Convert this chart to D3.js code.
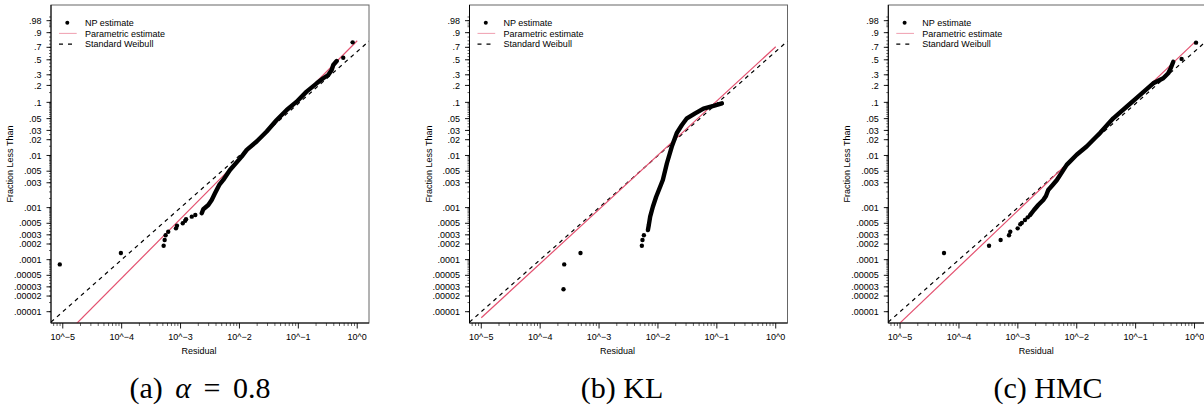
<!DOCTYPE html>
<html>
<head>
<meta charset="utf-8">
<script src="https://cdn.jsdelivr.net/npm/d3@7"></script>
<style>
body { margin: 0; background: #fff; }
svg { display: block; }
</style>
</head>
<body>
<svg id="chart"></svg>
<script>
// ---- data ----
const yTicks = [.98, .9, .7, .5, .3, .2, .1, .05, .03, .02, .01, .005, .003, .001, .0005, .0003, .0002, .0001, .00005, .00003, .00002, .00001];
const yTickLabels = ['.98', '.9', '.7', '.5', '.3', '.2', '.1', '.05', '.03', '.02', '.01', '.005', '.003', '.001', '.0005', '.0003', '.0002', '.0001', '.00005', '.00003', '.00002', '.00001'];
const xTicks = [1e-5, 1e-4, 1e-3, 1e-2, 1e-1, 1];
const xTickLabels = ['10^\u22125', '10^\u22124', '10^\u22123', '10^\u22122', '10^\u22121', '10^0'];
const legendLabels = ['NP estimate', 'Parametric estimate', 'Standard Weibull'];

// isolated NP points [residual, fraction]
const alphaDots = [[8.9e-6, 8.1e-5], [9.7e-5, 1.34e-4], [5.16e-4, 1.85e-4], [5.37e-4, 2.38e-4], [5.58e-4, 2.94e-4],
  [6.18e-4, 3.44e-4], [8.36e-4, 4.0e-4], [8.69e-4, 4.49e-4], [1.09e-3, 5.0e-4], [1.20e-3, 5.6e-4], [1.24e-3, 6.0e-4],
  [1.55e-3, 6.7e-4], [1.78e-3, 7.2e-4], [0.579, 0.532], [0.836, 0.777]];
// dense run of NP points
const alphaCurve = [[2.29e-3, 7.8e-4], [2.43e-3, 9.3e-4], [2.96e-3, 1.12e-3], [3.38e-3, 1.40e-3], [3.84e-3, 1.88e-3],
  [4.54e-3, 2.72e-3], [5.31e-3, 3.39e-3], [6.90e-3, 5.28e-3], [1.09e-2, 9.5e-3], [1.33e-2, 1.28e-2], [1.96e-2, 1.85e-2],
  [2.90e-2, 2.87e-2], [4.29e-2, 4.71e-2], [6.34e-2, 7.24e-2], [9.36e-2, 0.1029], [0.138, 0.156], [0.205, 0.217],
  [0.265, 0.264], [0.322, 0.298], [0.368, 0.357], [0.392, 0.423], [0.448, 0.481]];
const alphaParam = [[1e-5, 3.2e-6], [1, 0.80]];

const klDots = [[2.56e-4, 8.1e-5], [2.49e-4, 2.7e-5], [4.84e-4, 1.34e-4], [5.33e-3, 1.85e-4], [5.46e-3, 2.38e-4], [5.77e-3, 2.94e-4]];
const klCurve = [[6.75e-3, 3.71e-4], [7.0e-3, 4.63e-4], [7.38e-3, 6.7e-4], [8.2e-3, 1.04e-3], [9.33e-3, 1.62e-3],
  [1.09e-2, 2.52e-3], [1.21e-2, 3.39e-3], [1.42e-2, 7.1e-3], [1.72e-2, 1.48e-2], [2.09e-2, 2.68e-2], [2.55e-2, 3.79e-2],
  [3.10e-2, 5.07e-2], [4.28e-2, 6.29e-2], [5.93e-2, 7.7e-2], [8.77e-2, 8.6e-2], [0.122, 0.096]];
const klParam = [[1e-5, 7.65e-6], [1, 0.709]];

const hmcDots = [[5.57e-5, 1.34e-4], [3.24e-4, 1.85e-4], [5.1e-4, 2.38e-4], [7.07e-4, 2.94e-4], [7.43e-4, 3.44e-4],
  [9.93e-4, 4.0e-4], [1.10e-3, 4.78e-4], [1.17e-3, 5.1e-4], [1.32e-3, 5.8e-4], [1.47e-3, 6.5e-4], [0.604, 0.514], [1.06, 0.772]];
const hmcCurve = [[1.61e-3, 7.2e-4], [1.88e-3, 9.0e-4], [2.22e-3, 1.12e-3], [2.70e-3, 1.40e-3], [3.0e-3, 1.67e-3],
  [3.28e-3, 2.18e-3], [3.90e-3, 2.72e-3], [4.6e-3, 3.39e-3], [6.75e-3, 6.6e-3], [9.97e-3, 1.03e-2], [1.47e-2, 1.48e-2],
  [2.48e-2, 2.68e-2], [4.17e-2, 5.07e-2], [7.03e-2, 8.3e-2], [0.118, 0.135], [0.199, 0.217], [0.294, 0.264],
  [0.358, 0.317], [0.393, 0.378], [0.436, 0.470]];
const hmcParam = [[1e-5, 6.1e-6], [1, 0.777]];

const stdWeibull = [[6.3e-6, 6.3e-6], [1.585, 0.795]];

const panels = [
  { left: 51, dots: alphaDots, curve: alphaCurve, param: alphaParam, cap: ['(a) ', '\u03b1', ' = 0.8'], capX: 200 },
  { left: 469.5, dots: klDots, curve: klCurve, param: klParam, cap: ['(b) KL'], capX: 622 },
  { left: 888.3, dots: hmcDots, curve: hmcCurve, param: hmcParam, cap: ['(c) HMC'], capX: 1048 }
];

// ---- layout ----
const width = 1204, height = 409;
const plotTop = 5, W = 318, H = 318;
const red = '#e3506f';
const font = '"Liberation Sans", Arial, Helvetica, sans-serif';

const svg = d3.select('#chart').attr('width', width).attr('height', height);
svg.append('rect').attr('width', width).attr('height', height).attr('fill', '#fff');

// Weibull probability paper: log10 residual vs log(-log(1-p))
const x = d3.scaleLog().domain([Math.pow(10, -5.2), Math.pow(10, 0.2)]).range([0, W]);
const yL = d3.scaleLinear().domain([-12.013, 2.058]).range([H, 0]);
const y = p => yL(Math.log(-Math.log(1 - p)));

// minor ticks
const yMinor = [];
for (let k = -5; k <= -2; k++) {
  for (let m = 1; m < 10; m += 0.5) yMinor.push(m * Math.pow(10, k));
}
for (let v = 0.1; v < 0.96; v += 0.05) yMinor.push(v);
[0.96, 0.97, 0.98, 0.99].forEach(v => yMinor.push(v));
const xMinor = [];
for (let k = -6; k <= 0; k++) {
  for (let m = 2; m < 10; m++) {
    const v = m * Math.pow(10, k);
    if (v >= x.domain()[0] && v <= x.domain()[1]) xMinor.push(v);
  }
}

const line = d3.line().x(d => x(d[0])).y(d => y(d[1]));

panels.forEach((pn, i) => {
  const g = svg.append('g').attr('transform', `translate(${pn.left},${plotTop})`);
  const clipId = 'clip' + i;
  g.append('clipPath').attr('id', clipId).append('rect').attr('width', W).attr('height', H);

  // frame
  g.append('rect').attr('width', W).attr('height', H)
    .attr('fill', 'none').attr('stroke', '#666').attr('stroke-width', 1);

  const plot = g.append('g').attr('clip-path', `url(#${clipId})`);

  // Standard Weibull
  plot.append('path').datum(stdWeibull).attr('d', line)
    .attr('fill', 'none').attr('stroke', '#000').attr('stroke-width', 1.2).attr('stroke-dasharray', '4,4');

  // Parametric estimate
  plot.append('path').datum(pn.param).attr('d', line)
    .attr('fill', 'none').attr('stroke', red).attr('stroke-width', 1.2);

  // NP estimate: dense run + isolated points
  plot.append('path').datum(pn.curve).attr('d', line)
    .attr('fill', 'none').attr('stroke', '#000').attr('stroke-width', 4.4)
    .attr('stroke-linecap', 'round').attr('stroke-linejoin', 'round');
  plot.selectAll('circle.np').data(pn.dots).enter().append('circle')
    .attr('class', 'np')
    .attr('cx', d => x(d[0])).attr('cy', d => y(d[1])).attr('r', 2.2).attr('fill', '#000');

  // Y axis
  const ya = g.append('g');
  ya.append('line').attr('x1', 0).attr('x2', 0).attr('y1', 0).attr('y2', H).attr('stroke', '#000');
  ya.selectAll('line.minor').data(yMinor).enter().append('line')
    .attr('x1', -2).attr('x2', 0).attr('y1', d => y(d)).attr('y2', d => y(d))
    .attr('stroke', '#000').attr('stroke-width', 0.6);
  ya.selectAll('line.major').data(yTicks).enter().append('line')
    .attr('x1', -4.5).attr('x2', 0).attr('y1', d => y(d)).attr('y2', d => y(d))
    .attr('stroke', '#000').attr('stroke-width', 0.9);
  ya.selectAll('text').data(yTicks).enter().append('text')
    .attr('x', -9.5).attr('y', d => y(d)).attr('dy', '0.35em')
    .attr('text-anchor', 'end').attr('font-family', font).attr('font-size', '9px')
    .text((d, j) => yTickLabels[j]);

  // X axis
  const xa = g.append('g').attr('transform', `translate(0,${H})`);
  xa.append('line').attr('x1', 0).attr('x2', W).attr('stroke', '#000');
  xa.selectAll('line.minor').data(xMinor).enter().append('line')
    .attr('x1', d => x(d)).attr('x2', d => x(d)).attr('y1', 0).attr('y2', 3)
    .attr('stroke', '#000').attr('stroke-width', 0.6);
  xa.selectAll('line.major').data(xTicks).enter().append('line')
    .attr('x1', d => x(d)).attr('x2', d => x(d)).attr('y1', 0).attr('y2', 5.5)
    .attr('stroke', '#000').attr('stroke-width', 0.9);
  xa.selectAll('text').data(xTicks).enter().append('text')
    .attr('x', d => x(d)).attr('y', 17)
    .attr('text-anchor', 'middle').attr('font-family', font).attr('font-size', '9px')
    .text((d, j) => xTickLabels[j]);

  // axis titles
  g.append('text')
    .attr('x', 148).attr('y', H + 31)
    .attr('text-anchor', 'middle').attr('font-family', font).attr('font-size', '9px')
    .text('Residual');
  g.append('text')
    .attr('transform', `translate(-38,${H / 2}) rotate(-90)`)
    .attr('text-anchor', 'middle').attr('font-family', font).attr('font-size', '9px')
    .text('Fraction Less Than');

  // legend
  const lg = g.append('g');
  legendLabels.forEach((lab, j) => {
    const ly = 17.7 + j * 10.7;
    if (j === 0) lg.append('circle').attr('cx', 16.3).attr('cy', ly).attr('r', 2).attr('fill', '#000');
    if (j === 1) lg.append('line').attr('x1', 8).attr('x2', 25.7).attr('y1', ly).attr('y2', ly)
      .attr('stroke', red).attr('stroke-opacity', 0.55).attr('stroke-width', 1);
    if (j === 2) lg.append('line').attr('x1', 8).attr('x2', 25.7).attr('y1', ly).attr('y2', ly)
      .attr('stroke', '#000').attr('stroke-width', 1.2).attr('stroke-dasharray', '4,5');
    lg.append('text').attr('x', 34).attr('y', ly).attr('dy', '0.35em')
      .attr('font-family', font).attr('font-size', '9px').text(lab);
  });

  // caption
  const cap = svg.append('text')
    .attr('x', pn.capX).attr('y', 398)
    .attr('text-anchor', 'middle')
    .attr('word-spacing', i === 0 ? '5px' : null)
    .attr('font-family', '"Liberation Serif", "DejaVu Serif", serif').attr('font-size', '30px');
  pn.cap.forEach(s => {
    cap.append('tspan').attr('font-style', s === '\u03b1' ? 'italic' : null).text(s);
  });
});
</script>
</body>
</html>
